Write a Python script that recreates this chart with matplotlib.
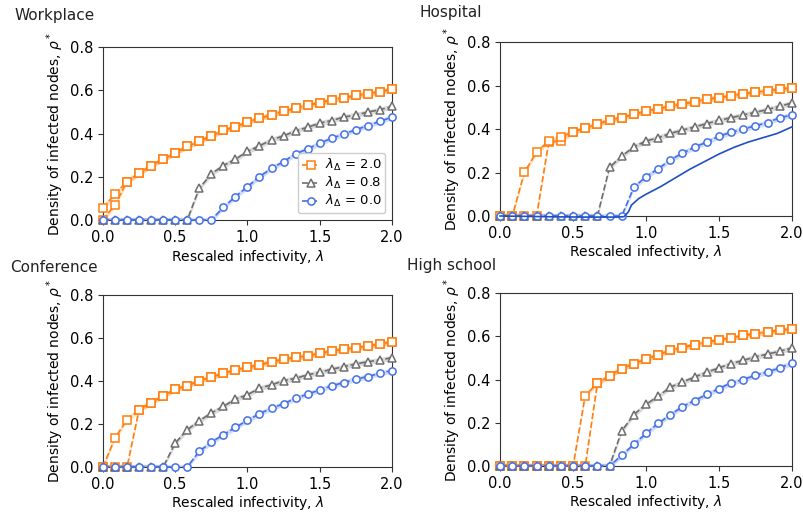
import numpy as np
import matplotlib.pyplot as plt

# rescaled infectivity grid (25 points, step 1/12)
lam = np.arange(25) / 12.0

# ---- Workplace ----
wp_orange = [0.057, 0.119, 0.178, 0.216, 0.252, 0.281, 0.31, 0.34, 0.364, 0.389, 0.414, 0.432, 0.452,
             0.471, 0.486, 0.502, 0.517, 0.531, 0.542, 0.556, 0.565, 0.576, 0.585, 0.593, 0.605]
wp_orange_low = [0.0, 0.07, 0.178, 0.216, 0.252, 0.281, 0.31, 0.34, 0.364, 0.389, 0.414, 0.432, 0.452,
                 0.471, 0.486, 0.502, 0.517, 0.531, 0.542, 0.556, 0.565, 0.576, 0.585, 0.593, 0.605]
wp_grey = [0, 0, 0, 0, 0, 0, 0, 0, 0.147, 0.213, 0.252, 0.281, 0.317,
           0.343, 0.371, 0.389, 0.412, 0.429, 0.448, 0.46, 0.476, 0.486, 0.499, 0.51, 0.525]
wp_blue = [0, 0, 0, 0, 0, 0, 0, 0, 0, 0, 0.059, 0.108, 0.154,
           0.2, 0.239, 0.27, 0.306, 0.329, 0.355, 0.378, 0.398, 0.417, 0.437, 0.456, 0.476]

# ---- Hospital ----
hp_orange = [0, 0, 0.201, 0.294, 0.345, 0.365, 0.387, 0.405, 0.422, 0.441, 0.453, 0.467, 0.483,
             0.492, 0.506, 0.515, 0.526, 0.537, 0.545, 0.554, 0.562, 0.569, 0.577, 0.583, 0.591]
hp_orange_low = [0, 0, 0, 0, 0.34, 0.345, 0.387, 0.405, 0.422, 0.441, 0.453, 0.467, 0.483,
                 0.492, 0.506, 0.515, 0.526, 0.537, 0.545, 0.554, 0.562, 0.569, 0.577, 0.583, 0.591]
hp_grey = [0, 0, 0, 0, 0, 0, 0, 0, 0, 0.224, 0.275, 0.318, 0.345,
           0.36, 0.38, 0.395, 0.41, 0.425, 0.44, 0.452, 0.465, 0.477, 0.49, 0.505, 0.52]
hp_blue = [0, 0, 0, 0, 0, 0, 0, 0, 0, 0, 0, 0.132, 0.181,
           0.217, 0.258, 0.289, 0.317, 0.34, 0.367, 0.385, 0.40, 0.415, 0.43, 0.452, 0.465]
hp_theory_x = [0.0, 0.2, 0.4, 0.6, 0.8, 0.85, 0.88, 0.9, 0.95, 1.0, 1.1, 1.2, 1.3, 1.4, 1.5,
               1.6, 1.7, 1.8, 1.9, 2.0]
hp_theory_y = [0.0, -0.002, -0.004, -0.005, -0.005, -0.003, 0.02, 0.05, 0.08, 0.10, 0.135, 0.175,
               0.215, 0.25, 0.285, 0.315, 0.34, 0.36, 0.38, 0.41]

# ---- Conference ----
cf_orange = [0, 0.135, 0.22, 0.266, 0.30, 0.331, 0.362, 0.379, 0.402, 0.418, 0.436, 0.452, 0.464,
             0.475, 0.49, 0.501, 0.51, 0.518, 0.529, 0.54, 0.548, 0.555, 0.563, 0.573, 0.583]
cf_orange_low = [0, 0, 0, 0.266, 0.30, 0.331, 0.362, 0.379, 0.402, 0.418, 0.436, 0.452, 0.464,
                 0.475, 0.49, 0.501, 0.51, 0.518, 0.529, 0.54, 0.548, 0.555, 0.563, 0.573, 0.583]
cf_grey = [0, 0, 0, 0, 0, 0, 0.111, 0.173, 0.215, 0.251, 0.282, 0.316, 0.336,
           0.367, 0.382, 0.402, 0.413, 0.429, 0.441, 0.455, 0.467, 0.48, 0.49, 0.498, 0.509]
cf_blue = [0, 0, 0, 0, 0, 0, 0, 0, 0.073, 0.115, 0.15, 0.184, 0.217,
           0.248, 0.274, 0.294, 0.32, 0.339, 0.359, 0.378, 0.393, 0.409, 0.421, 0.436, 0.449]

# ---- High school ----
hs_orange = [0, 0, 0, 0, 0, 0, 0, 0.326, 0.382, 0.418, 0.451, 0.474, 0.495,
             0.515, 0.535, 0.548, 0.562, 0.572, 0.585, 0.592, 0.605, 0.612, 0.62, 0.628, 0.635]
hs_orange_low = [0, 0, 0, 0, 0, 0, 0, 0, 0.382, 0.418, 0.451, 0.474, 0.495,
                 0.515, 0.535, 0.548, 0.562, 0.572, 0.585, 0.592, 0.605, 0.612, 0.62, 0.628, 0.635]
hs_grey = [0, 0, 0, 0, 0, 0, 0, 0, 0, 0, 0.162, 0.238, 0.285,
           0.323, 0.365, 0.388, 0.412, 0.434, 0.454, 0.474, 0.489, 0.505, 0.518, 0.531, 0.546]
hs_blue = [0, 0, 0, 0, 0, 0, 0, 0, 0, 0, 0.049, 0.10, 0.151,
           0.197, 0.237, 0.275, 0.303, 0.331, 0.358, 0.385, 0.40, 0.42, 0.435, 0.454, 0.477]

titles = ["Workplace", "Hospital", "Conference", "High school"]
labels = [r"$\lambda_\Delta$ = 2.0", r"$\lambda_\Delta$ = 0.8", r"$\lambda_\Delta$ = 0.0"]

c_orange = "#ff7f0e"
c_grey = "#6e6e6e"
c_blue = "#4470e8"
c_theory = "#1f4fc4"

plt.rcParams['font.family'] = 'DejaVu Sans'
plt.rcParams['font.size'] = 10

fig = plt.figure(figsize=(8.04, 5.16), dpi=100)
positions = [[0.128, 0.5736, 0.3595, 0.3353],
             [0.622, 0.5814, 0.363, 0.337],
             [0.128, 0.095, 0.3595, 0.333],
             [0.622, 0.0969, 0.363, 0.335]]
title_xy = [(0.018, 0.962), (0.522, 0.967), (0.012, 0.472), (0.506, 0.476)]

panels = [(wp_orange, wp_orange_low, wp_grey, wp_blue),
          (hp_orange, hp_orange_low, hp_grey, hp_blue),
          (cf_orange, cf_orange_low, cf_grey, cf_blue),
          (hs_orange, hs_orange_low, hs_grey, hs_blue)]


def draw(ax, y, color, marker, label=None, band=0.012):
    y = np.array(y, dtype=float)
    ax.fill_between(lam, y - band, y + band, color=color, alpha=0.25, lw=0)
    ax.plot(lam, y, ls='--', color=color, lw=1.2, marker=marker, ms=5.2,
            mfc='white', mec=color, mew=1.1, label=label, clip_on=False, zorder=3)


for i, (yo, yol, yg, yb) in enumerate(panels):
    ax = fig.add_axes(positions[i])
    draw(ax, yol, c_orange, 's')
    draw(ax, yo, c_orange, 's', labels[0])
    draw(ax, yg, c_grey, '^', labels[1])
    draw(ax, yb, c_blue, 'o', labels[2])
    if i == 1:
        ax.plot(hp_theory_x, hp_theory_y, color=c_theory, lw=1.2, zorder=4, clip_on=False)
    ax.set_xlim(0, 2.0)
    ax.set_ylim(0, 0.8)
    ax.set_xticks([0, 0.5, 1.0, 1.5, 2.0])
    ax.set_yticks([0, 0.2, 0.4, 0.6, 0.8])
    ax.tick_params(labelsize=10.5, color='#333333')
    for s in ax.spines.values():
        s.set_color('#333333')
    ax.set_xlabel(r"Rescaled infectivity, $\lambda$", fontsize=10, labelpad=2)
    ax.set_ylabel(r"Density of infected nodes, $\rho^*$", fontsize=10, labelpad=3)
    fig.text(title_xy[i][0], title_xy[i][1], titles[i], fontsize=11, color='#222222')
    if i == 0:
        h, l = ax.get_legend_handles_labels()
        ax.legend(h, l, loc='lower right', bbox_to_anchor=(1.0, 0.0), fontsize=9.5,
                  handlelength=1.3, handletextpad=0.4, borderpad=0.3, labelspacing=0.15,
                  framealpha=1)

fig.savefig("out.png", dpi=100)
